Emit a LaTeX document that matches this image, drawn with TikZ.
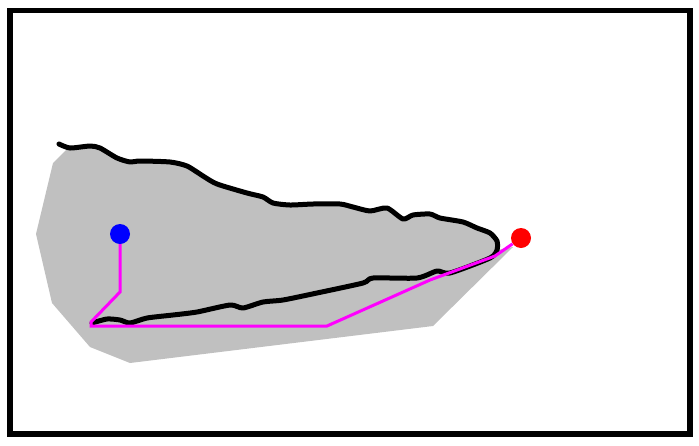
\documentclass[tikz,border=0pt]{standalone}
\usepackage{xcolor}
\definecolor{gray3}{RGB}{192,192,192}
\definecolor{magenta3}{RGB}{255,0,255}
\definecolor{blue3}{RGB}{0,0,255}
\definecolor{red3}{RGB}{255,0,0}
\usepackage{tikz}

\begin{document}
\begin{tikzpicture}[x=1pt, y=-1pt,
    dot/.style={circle, inner sep=0pt, minimum size=20pt},
    rim/.style={line width=5pt, line join=round, line cap=round},
    route/.style={magenta3, line width=3pt, line join=miter}]
  \useasboundingbox (0,0) rectangle (699,445);

  % Frame
  \draw[line width=5.5pt] (10,10.5) rectangle (690,434);

  % Shaded region under the outline
  \fill[gray3] (53,163) -- (66,150)
    -- plot[smooth, tension=0.4] coordinates {(70,148) (90,146) (100,148) (117,158)
      (130,162) (140,161) (170,162) (187,166) (203,176) (217,184) (247,193)
      (263,197) (273,203) (290,205) (313,204) (340,204) (353,207) (370,211)
      (387,208) (403,219) (413,215) (430,214) (440,218) (463,222) (477,228)
      (490,233) (497,241) (497,250)}
    -- (513,247) -- (433,326) -- (130,363) -- (90,347) -- (52,303) -- (36,234) -- cycle;

  % Outline
  \draw[rim] plot[smooth, tension=0.4] coordinates {(59,144) (70,148) (90,146)
    (100,148) (117,158) (130,162) (140,161) (170,162) (187,166) (203,176)
    (217,184) (247,193) (263,197) (273,203) (290,205) (313,204) (340,204)
    (353,207) (370,211) (387,208) (403,219) (413,215) (430,214) (440,218)
    (463,222) (477,228) (490,233) (497,241) (497,250) (490,258) (450,273)
    (437,271) (417,278) (373,278) (363,283) (317,293) (283,300) (263,302)
    (243,308) (230,305) (197,312) (173,315) (147,318) (130,323) (120,320)
    (107,319) (92,323)};

  % Start and goal
  \node[dot, fill=blue3] (start) at (120,234) {};
  \node[dot, fill=red3] (goal) at (521,238) {};

  % Route
  \draw[route] (start) -- (120,292) -- (91,322) -- (91,326) -- (327,326)
    -- (430,280) -- (495,256) -- (goal);
\end{tikzpicture}
\end{document}
